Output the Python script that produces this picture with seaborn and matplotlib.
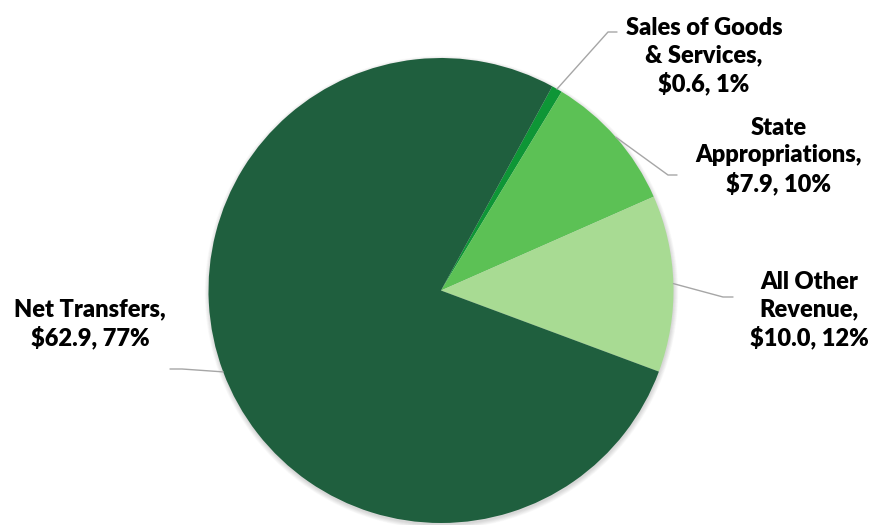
import numpy as np
import matplotlib
matplotlib.use("Agg")
import matplotlib.pyplot as plt
from matplotlib.patches import Circle
import seaborn as sns

# Revenue sources ($ millions), listed clockwise from the top
categories = ["Sales of Goods\n& Services", "State\nAppropriations", "All Other\nRevenue", "Net Transfers"]
values = [0.6, 7.9, 10.0, 62.9]
percent_labels = ["1%", "10%", "12%", "77%"]
colors = ["#0E9636", "#5CC155", "#A8DB93", "#1F5F3E"]

sns.set_theme(style="white")
plt.rcParams["font.family"] = ["Lato", "DejaVu Sans"]

W, H = 885, 525
fig = plt.figure(figsize=(W / 100, H / 100), dpi=100)
ax = fig.add_axes([0, 0, 1, 1])

cx, cy, r = 441, H - 290.5, 232.5

# soft drop shadow behind the pie
for i in range(8):
    ax.add_patch(Circle((cx + 0.5, cy - 2), r + 0.6 * i, color="black",
                        alpha=0.018, lw=0, zorder=0))

wedges, _ = ax.pie(values, colors=colors, startangle=61.4, counterclock=False,
                   center=(cx, cy), radius=r, frame=True,
                   wedgeprops=dict(linewidth=0))
ax.set_xlim(0, W)
ax.set_ylim(0, H)
ax.set_aspect("equal")
ax.axis("off")

# label text placement (pixel coordinates from top-left), leader elbow and end
label_pos = [(704, 56), (779, 156), (809, 310), (90, 324)]
elbows = [((608, 32), (617, 32)), ((668, 175), (677, 175)),
          ((723, 297), (733, 297)), ((182, 369), (170, 369))]

for w, name, val, pct, (tx, ty), (elb, end) in zip(wedges, categories, values,
                                                   percent_labels, label_pos, elbows):
    mid = np.deg2rad((w.theta1 + w.theta2) / 2)
    ex, ey = cx + r * np.cos(mid), cy + r * np.sin(mid)
    ax.plot([ex, elb[0], end[0]], [ey, H - elb[1], H - end[1]],
            color="#A6A6A6", lw=1.0, zorder=3)
    text = f"{name},\n${val:.1f}, {pct}"
    ax.text(tx, H - ty, text, ha="center", va="center", fontsize=17,
            fontweight="heavy", color="black", linespacing=1.3)

fig.savefig("out.png", dpi=100, facecolor="white")
